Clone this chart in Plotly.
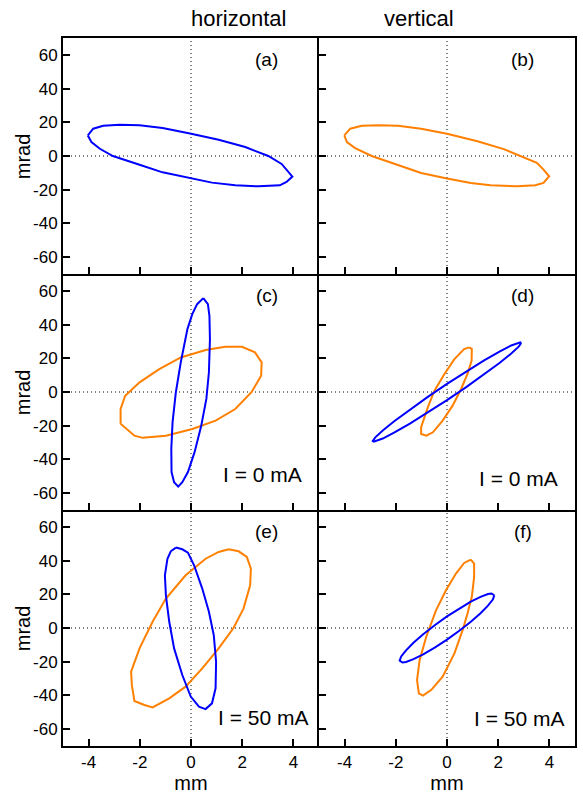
import plotly.graph_objects as go
from plotly.subplots import make_subplots

# ---------------- data ----------------
# panel (a): horizontal, blue
a_blue_x = [-4.03, -3.82, -3.43, -2.79, -2.01, -1.11, -0.04, 1.08, 2.12, 3.02, 3.54, 3.79, 3.96, 3.73, 3.47, 2.63, 1.73, 0.82, -0.04, -1.11, -2.01, -3.05, -3.56, -3.89, -4.03]
a_blue_y = [12.2, 16.2, 17.9, 18.5, 18.3, 16.6, 13.4, 9.6, 5.3, 0, -4.7, -9.1, -12.2, -15.4, -17.4, -18.0, -17.4, -15.8, -13.0, -9.7, -5.2, 0, 4.3, 8.3, 12.2]
# panel (b): vertical, orange
b_orange_x = [-4.01, -3.78, -3.33, -2.68, -1.91, -1.01, 0, 1.19, 2.22, 2.87, 3.51, 3.77, 3.99, 3.77, 3.45, 2.74, 1.70, 0.93, 0, -1.01, -1.91, -2.94, -3.59, -3.91, -4.01]
b_orange_y = [12.2, 16.2, 17.9, 18.3, 17.9, 16.2, 13.2, 8.7, 4.1, 0, -4.1, -8.1, -12.0, -16.0, -17.4, -18.0, -17.4, -16.0, -13.4, -10.1, -5.6, 0, 4.7, 8.3, 12.2]
# panel (c): horizontal, I = 0 mA
c_blue_x = [0.48, 0.66, 0.72, 0.74, 0.70, 0.60, 0.40, 0.14, -0.12, -0.34, -0.50, -0.66, -0.76, -0.77, -0.72, -0.59, -0.40, -0.14, 0.05, 0.24, 0.48]
c_blue_y = [55.7, 52.1, 45.2, 31.4, 11.7, -4.1, -20.0, -35.7, -47.5, -53.5, -56.1, -53.5, -47.5, -33.7, -17.9, 0, 17.6, 37.3, 46.2, 52.1, 55.7]
c_orange_x = [-2.75, -2.75, -2.57, -2.01, -1.24, -0.40, 0.57, 1.34, 1.99, 2.50, 2.76, 2.74, 2.37, 1.73, 0.96, 0.05, -0.98, -1.89, -2.21, -2.59, -2.75]
c_orange_y = [-18.9, -10.1, -2.2, 5.7, 13.6, 20.5, 24.9, 26.8, 26.8, 23.5, 17.6, 9.7, 0, -10.1, -17.0, -21.9, -25.9, -27.2, -25.9, -20.9, -18.9]
# panel (d): vertical, I = 0 mA
d_blue_x = [2.90, 2.86, 2.51, 2.05, 1.45, 0.75, 0, -0.75, -1.45, -2.05, -2.51, -2.80, -2.90, -2.86, -2.51, -2.05, -1.45, -0.75, 0, 0.75, 1.45, 2.05, 2.51, 2.80, 2.90]
d_blue_y = [29.1, 29.5, 27.6, 24.0, 18.7, 12.1, 4.8, -2.9, -10.4, -17.2, -22.8, -26.9, -29.1, -29.5, -27.6, -24.0, -18.7, -12.1, -4.8, 2.9, 10.4, 17.2, 22.8, 26.9, 29.1]
d_orange_x = [0.87, 0.97, 0.96, 0.80, 0.55, 0.22, -0.17, -0.55, -0.81, -1.01, -1.01, -0.75, -0.49, -0.10, 0.29, 0.67, 0.87]
d_orange_y = [26.5, 25.5, 18.5, 10.7, 1.8, -8.1, -17.0, -23.9, -25.9, -24.9, -20.9, -9.1, 0.8, 10.7, 19.5, 25.5, 26.5]
# panel (e): horizontal, I = 50 mA
e_blue_x = [-0.59, -0.34, -0.12, 0.12, 0.44, 0.70, 0.89, 0.98, 0.96, 0.82, 0.57, 0.31, -0.01, -0.34, -0.66, -0.85, -0.98, -1.02, -0.92, -0.79, -0.59]
e_blue_y = [47.7, 46.7, 44.7, 37.2, 23.4, 9.6, -4.3, -20.0, -35.8, -44.7, -48.1, -46.7, -40.7, -27.9, -12.1, 3.7, 19.4, 31.3, 41.1, 45.5, 47.7]
e_orange_x = [1.47, 1.86, 2.18, 2.34, 2.31, 2.05, 1.66, 1.08, 0.44, -0.21, -0.85, -1.50, -1.82, -2.21, -2.31, -2.34, -2.01, -1.50, -0.98, -0.21, 0.57, 1.08, 1.47]
e_orange_y = [46.7, 45.5, 42.2, 35.2, 25.3, 11.5, 0, -12.1, -24.0, -34.8, -41.7, -47.1, -45.7, -43.3, -33.9, -25.9, -12.1, 3.7, 17.5, 31.3, 41.1, 45.1, 46.7]
# panel (f): vertical, I = 50 mA
f_blue_x = [1.85, 1.74, 1.60, 1.31, 0.93, 0.48, 0, -0.48, -0.93, -1.31, -1.60, -1.79, -1.85, -1.74, -1.60, -1.31, -0.93, -0.48, 0, 0.48, 0.93, 1.31, 1.60, 1.79, 1.85]
f_blue_y = [19.3, 20.5, 20.2, 18.5, 15.6, 11.6, 6.9, 1.6, -3.7, -8.8, -13.3, -16.9, -19.3, -20.5, -20.2, -18.5, -15.6, -11.6, -6.9, -1.6, 3.7, 8.8, 13.3, 16.9, 19.3]
f_orange_x = [0.93, 1.06, 1.06, 0.97, 0.80, 0.61, 0.29, -0.17, -0.62, -0.94, -1.10, -1.17, -1.07, -0.81, -0.43, -0.04, 0.35, 0.67, 0.93]
f_orange_y = [40.6, 38.2, 30.3, 18.5, 8.6, -1.3, -15.1, -28.9, -36.8, -40.1, -38.8, -30.9, -19.1, -5.2, 10.5, 22.4, 32.3, 38.6, 40.6]

panel_labels = ["(a)", "(b)", "(c)", "(d)", "(e)", "(f)"]
current_labels = {3: ("I = 0 mA", -49), 4: ("I = 0 mA", -51.5), 5: ("I = 50 mA", -53), 6: ("I = 50 mA", -53.5)}
column_titles = ["horizontal", "vertical"]
x_ticks = [-4, -2, 0, 2, 4]
x_ticktext = ["-4", "-2", "0", "2", "4"]
y_ticks = [-60, -40, -20, 0, 20, 40, 60]
y_ticktext = ["-60", "-40", "-20", "0", "20", "40", "60"]

BLUE = "rgb(0,0,255)"
ORANGE = "rgb(255,128,0)"
FONT = "Liberation Sans, Arial, sans-serif"

panels = [
    (1, 1, None, (a_blue_x, a_blue_y)),
    (1, 2, (b_orange_x, b_orange_y), None),
    (2, 1, (c_orange_x, c_orange_y), (c_blue_x, c_blue_y)),
    (2, 2, (d_orange_x, d_orange_y), (d_blue_x, d_blue_y)),
    (3, 1, (e_orange_x, e_orange_y), (e_blue_x, e_blue_y)),
    (3, 2, (f_orange_x, f_orange_y), (f_blue_x, f_blue_y)),
]

fig = make_subplots(rows=3, cols=2, horizontal_spacing=0, vertical_spacing=0)

for r, c, orange, blue in panels:
    if orange is not None:
        fig.add_trace(go.Scatter(x=orange[0], y=orange[1], mode="lines",
                                 line=dict(color=ORANGE, width=2), showlegend=False,
                                 hoverinfo="skip"), row=r, col=c)
    if blue is not None:
        fig.add_trace(go.Scatter(x=blue[0], y=blue[1], mode="lines",
                                 line=dict(color=BLUE, width=2), showlegend=False,
                                 hoverinfo="skip"), row=r, col=c)

axis_common = dict(showline=True, linecolor="black", linewidth=2,
                   ticks="inside", ticklen=7, tickwidth=1.5, tickcolor="black",
                   showgrid=False, zeroline=False,
                   tickfont=dict(family=FONT, size=17, color="black"))

for i, (r, c, _, _) in enumerate(panels):
    fig.update_xaxes(range=[-5, 5], tickvals=x_ticks, ticktext=x_ticktext,
                     showticklabels=(r == 3), mirror=(r == 1),
                     title=dict(text="mm" if r == 3 else "", standoff=2,
                                font=dict(family=FONT, size=20, color="black")),
                     row=r, col=c, **axis_common)
    fig.update_yaxes(range=[-70, 70], tickvals=y_ticks, ticktext=y_ticktext,
                     showticklabels=(c == 1), mirror=(c == 2),
                     row=r, col=c, **axis_common)

# dotted zero lines and panel annotations
for i, (r, c, _, _) in enumerate(panels):
    n = i + 1
    xa = "x" if n == 1 else f"x{n}"
    ya = "y" if n == 1 else f"y{n}"
    fig.add_shape(type="line", xref=xa, yref=f"{ya} domain", x0=0, x1=0, y0=0, y1=1,
                  line=dict(color="black", width=1, dash="1px,3px"), layer="below")
    fig.add_shape(type="line", xref=f"{xa} domain", yref=ya, x0=0, x1=1, y0=0, y1=0,
                  line=dict(color="black", width=1, dash="1px,3px"), layer="below")
    fig.add_annotation(x=2.95, y=57, xref=xa, yref=ya, text=panel_labels[i],
                       showarrow=False, font=dict(family=FONT, size=19, color="black"))
    if n in current_labels:
        txt, yv = current_labels[n]
        fig.add_annotation(x=2.8, y=yv, xref=xa, yref=ya, text=txt, showarrow=False,
                           font=dict(family=FONT, size=21, color="black"))
    if c == 1:
        # y-axis title "mrad", placed as in the reference
        fig.add_annotation(x=-0.0777, y=0, xref="paper", yref=ya, text="mrad",
                           textangle=-90, showarrow=False, xanchor="center", yanchor="middle",
                           font=dict(family=FONT, size=20, color="black"))

for j, t in enumerate(column_titles):
    fig.add_annotation(x=[0.2459, 0.7677][j], y=1.027, xref="paper", yref="paper",
                       text=t, showarrow=False, yanchor="middle",
                       font=dict(family=FONT, size=22, color="black"))

fig.update_layout(width=583, height=794,
                  margin=dict(l=63, r=5.5, t=37.5, b=46),
                  paper_bgcolor="white", plot_bgcolor="white")

fig.write_html("out.html")
